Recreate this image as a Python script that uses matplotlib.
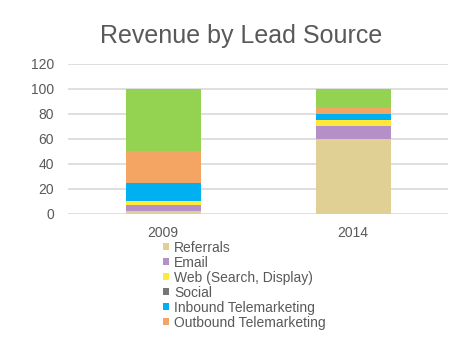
import numpy as np
import matplotlib
matplotlib.use('Agg')
import matplotlib.pyplot as plt

# Data
years = ['2009', '2014']
sources = ['Referrals', 'Email', 'Web (Search, Display)', 'Social',
           'Inbound Telemarketing', 'Outbound Telemarketing', 'Trade Shows']
referrals = [2, 60]
email = [5, 10]
web = [3, 5]
social = [0, 0]
inbound = [15, 5]
outbound = [25, 5]
trade_shows = [50, 15]
series = [referrals, email, web, social, inbound, outbound, trade_shows]
colors = ['#e1d093', '#b48fc8', '#ffe83a', '#767676', '#00b0f0', '#f4a463', '#94d351']

plt.rcParams['font.family'] = ['Liberation Sans', 'DejaVu Sans']
text_color = '#595959'

fig = plt.figure(figsize=(4.63, 3.38), dpi=100)
ax = fig.add_axes([0.147, 0.367, 0.821, 0.444])

x = np.arange(len(years))
bottom = np.zeros(len(years))
handles = []
for name, vals, c in zip(sources, series, colors):
    b = ax.bar(x, vals, width=0.395, bottom=bottom, color=c, label=name, zorder=2)
    handles.append(b)
    bottom += np.array(vals)

ax.set_xlim(-0.5, 1.5)
ax.set_ylim(0, 120)
ax.set_yticks(range(0, 121, 20))
ax.set_xticks(x)
ax.set_xticklabels(years)
ax.yaxis.grid(True, color='#d9d9d9', linewidth=1.2, zorder=0)
ax.set_axisbelow(True)
for s in ax.spines.values():
    s.set_visible(False)
ax.tick_params(length=0, labelsize=10, labelcolor=text_color)
ax.tick_params(axis='x', pad=9)
ax.tick_params(axis='y', pad=10)

fig.suptitle('Revenue by Lead Source', fontsize=18, color=text_color,
             x=0.52, y=0.93)

# legend is cut at the bottom in the original, only the first six fit
fig.legend(handles[:6], sources[:6], loc='upper left',
           bbox_to_anchor=(0.352, 0.288), frameon=False,
           fontsize=10, handlelength=0.45, handleheight=0.45, handletextpad=0.35,
           labelspacing=0.07, borderpad=0, borderaxespad=0, labelcolor=text_color)

fig.savefig('out.png', dpi=100)
